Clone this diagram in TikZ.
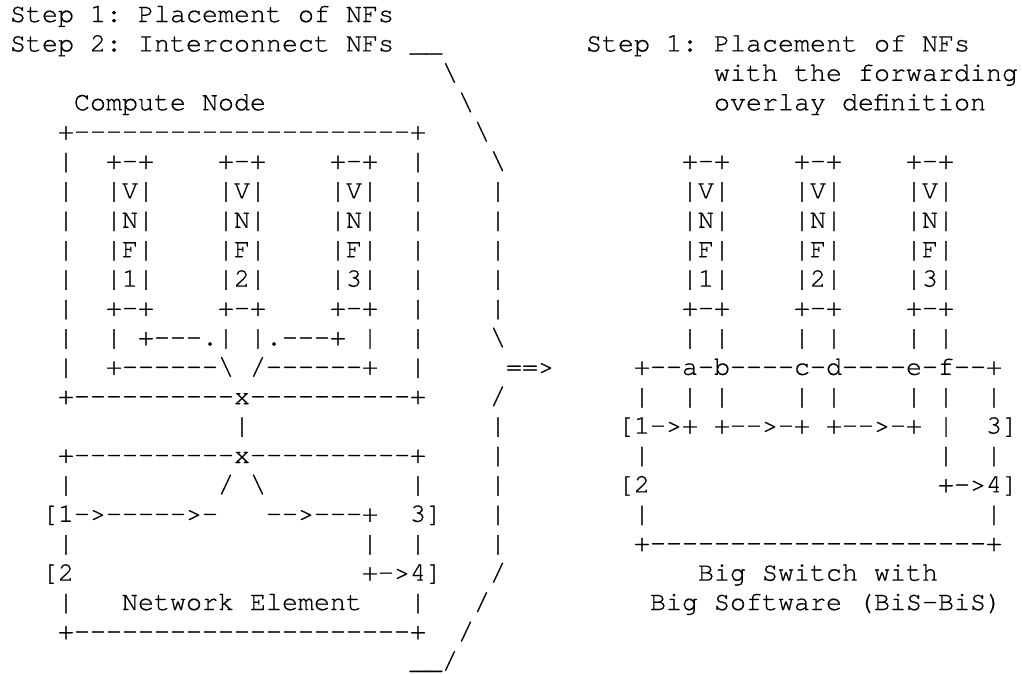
\documentclass[tikz,border=0pt]{standalone}
\usepackage{fontspec}
\setmonofont[FakeBold=0.6]{TeX Gyre Cursor}
\frenchspacing
\newcommand\bs{\textbackslash}
\tikzset{
  ascii/.style={anchor=base west, inner sep=0pt, outer sep=0pt,
    font=\ttfamily\frenchspacing\fontsize{26.67}{29.4}\selectfont, text=black}
}
% text cell: row, column, characters
\newcommand\cell[3]{\node[ascii] (t#1x#2) at ({10+16*#2},{-22-29.4*(#1-1)}) {#3};}
\begin{document}
\begin{tikzpicture}[x=1pt,y=1pt]
\useasboundingbox (0,0) rectangle (1022,-673);
% headings
\cell{1}{0}{Step 1: Placement of NFs}
\cell{2}{0}{Step 2: Interconnect NFs \_\_}
\cell{2}{36}{Step 1: Placement of NFs}
\cell{3}{27}{\bs}
\cell{3}{44}{with the forwarding}
\cell{4}{4}{Compute Node}
\cell{4}{28}{\bs}
\cell{4}{44}{overlay definition}
% compute node box
\cell{5}{3}{+---------------------+}
\cell{5}{29}{\bs}
\cell{6}{3}{|}\cell{6}{6}{+-+}\cell{6}{13}{+-+}\cell{6}{20}{+-+}\cell{6}{25}{|}
\cell{6}{30}{\bs}
\cell{6}{42}{+-+}\cell{6}{49}{+-+}\cell{6}{56}{+-+}
\cell{7}{3}{|}\cell{7}{6}{|V|}\cell{7}{13}{|V|}\cell{7}{20}{|V|}\cell{7}{25}{|}\cell{7}{30}{|}
\cell{7}{42}{|V|}\cell{7}{49}{|V|}\cell{7}{56}{|V|}
\cell{8}{3}{|}\cell{8}{6}{|N|}\cell{8}{13}{|N|}\cell{8}{20}{|N|}\cell{8}{25}{|}\cell{8}{30}{|}
\cell{8}{42}{|N|}\cell{8}{49}{|N|}\cell{8}{56}{|N|}
\cell{9}{3}{|}\cell{9}{6}{|F|}\cell{9}{13}{|F|}\cell{9}{20}{|F|}\cell{9}{25}{|}\cell{9}{30}{|}
\cell{9}{42}{|F|}\cell{9}{49}{|F|}\cell{9}{56}{|F|}
\cell{10}{3}{|}\cell{10}{6}{|1|}\cell{10}{13}{|2|}\cell{10}{20}{|3|}\cell{10}{25}{|}\cell{10}{30}{|}
\cell{10}{42}{|1|}\cell{10}{49}{|2|}\cell{10}{56}{|3|}
\cell{11}{3}{|}\cell{11}{6}{+-+}\cell{11}{13}{+-+}\cell{11}{20}{+-+}\cell{11}{25}{|}\cell{11}{30}{|}
\cell{11}{42}{+-+}\cell{11}{49}{+-+}\cell{11}{56}{+-+}
\cell{12}{3}{|}\cell{12}{6}{| +---.| |.---+ |}\cell{12}{25}{|}\cell{12}{30}{\bs}
\cell{12}{42}{| |}\cell{12}{49}{| |}\cell{12}{56}{| |}
\cell{13}{3}{|}\cell{13}{6}{+------\bs{} /------+}\cell{13}{25}{|}
\cell{13}{31}{==>}
\cell{13}{39}{+--a-b----c-d----e-f--+}
\cell{14}{3}{+----------x----------+}\cell{14}{30}{/}
\cell{14}{39}{|}\cell{14}{42}{| |}\cell{14}{49}{| |}\cell{14}{56}{| |}\cell{14}{61}{|}
% link between the two boxes
\cell{15}{14}{|}\cell{15}{30}{|}
\cell{15}{38}{[1->+ +-->-+ +-->-+ |}\cell{15}{61}{3]}
% network element box
\cell{16}{3}{+----------x----------+}\cell{16}{30}{|}
\cell{16}{39}{|}\cell{16}{58}{|}\cell{16}{61}{|}
\cell{17}{3}{|}\cell{17}{13}{/ \bs}\cell{17}{25}{|}\cell{17}{30}{|}
\cell{17}{38}{[2}\cell{17}{58}{+->4]}
\cell{18}{2}{[1->----->-}\cell{18}{16}{-->---+}\cell{18}{25}{3]}\cell{18}{30}{|}
\cell{18}{39}{|}\cell{18}{61}{|}
\cell{19}{3}{|}\cell{19}{22}{|}\cell{19}{25}{|}\cell{19}{30}{|}
\cell{19}{39}{+---------------------+}
\cell{20}{2}{[2}\cell{20}{22}{+->4]}\cell{20}{30}{/}
\cell{20}{43}{Big Switch with}
\cell{21}{3}{|}\cell{21}{7}{Network Element}\cell{21}{25}{|}\cell{21}{29}{/}
\cell{21}{40}{Big Software (BiS-BiS)}
\cell{22}{3}{+---------------------+}\cell{22}{28}{/}
\cell{23}{25}{\_\_/}
\end{tikzpicture}
\end{document}
